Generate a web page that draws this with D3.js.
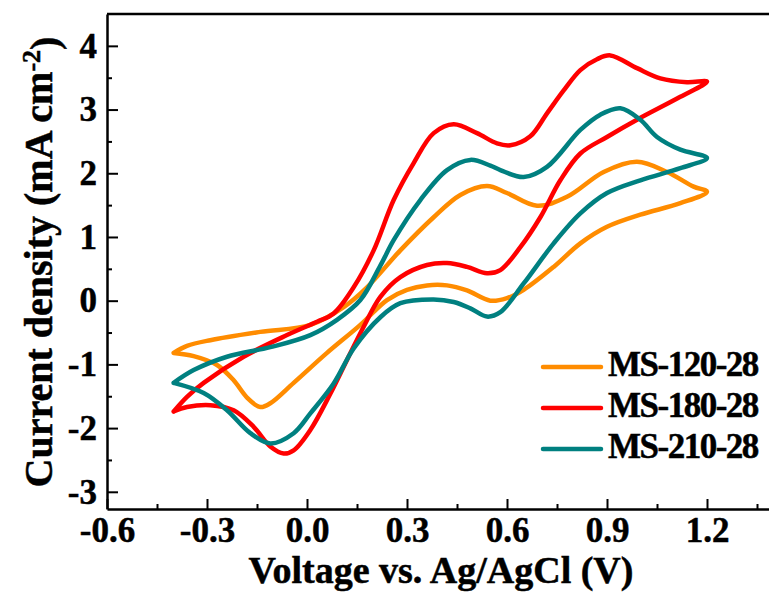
<!DOCTYPE html>
<html>
<head>
<meta charset="utf-8">
<script src="https://cdn.jsdelivr.net/npm/d3@7"></script>
<style>
  body { margin: 0; background: #fff; }
  svg { display: block; font-family: "Liberation Serif", "Times New Roman", serif; font-weight: bold; }
  .axis path, .axis line { stroke: #000; }
  text { stroke: #000; stroke-width: 0.5px; }
</style>
</head>
<body>
<script>
// series names and colours
const seriesNames = ['MS-120-28', 'MS-180-28', 'MS-210-28'];
const seriesColors = ['#ff8c00', '#ff0000', '#008080'];

// each loop: forward sweep -0.4 -> 1.2 V, then reverse back to -0.4 V
const ms120Volt = [-0.40, -0.36, -0.29, -0.14, 0.01, 0.11, 0.18, 0.28, 0.38, 0.46, 0.54, 0.60, 0.69, 0.78, 0.89, 0.99, 1.08, 1.16, 1.20,
                   1.12, 1.00, 0.90, 0.82, 0.74, 0.65, 0.60, 0.55, 0.48, 0.42, 0.36, 0.30, 0.24, 0.16, 0.06, -0.04, -0.11, -0.14, -0.18, -0.22, -0.27, -0.34, -0.40];
const ms120Curr = [-0.82, -0.71, -0.62, -0.49, -0.38, -0.10, 0.21, 0.79, 1.31, 1.66, 1.80, 1.69, 1.49, 1.63, 2.02, 2.18, 2.02, 1.79, 1.71,
                   1.53, 1.35, 1.16, 0.90, 0.53, 0.17, 0.04, 0.00, 0.16, 0.24, 0.24, 0.17, 0.01, -0.38, -0.82, -1.29, -1.61, -1.67, -1.52, -1.25, -1.01, -0.87, -0.82];

const ms180Volt = [-0.40, -0.36, -0.31, -0.19, -0.06, 0.03, 0.08, 0.14, 0.20, 0.26, 0.32, 0.38, 0.44, 0.51, 0.57, 0.61, 0.67, 0.72, 0.77, 0.82, 0.87, 0.91, 0.99, 1.06, 1.14, 1.20,
                   1.12, 0.99, 0.90, 0.82, 0.76, 0.70, 0.64, 0.58, 0.54, 0.48, 0.42, 0.36, 0.28, 0.22, 0.17, 0.12, 0.07, 0.01, -0.04, -0.07, -0.11, -0.16, -0.22, -0.29, -0.36, -0.40];
const ms180Curr = [-1.74, -1.51, -1.29, -0.88, -0.54, -0.33, -0.20, 0.21, 0.79, 1.58, 2.16, 2.63, 2.77, 2.63, 2.47, 2.44, 2.58, 2.94, 3.30, 3.62, 3.79, 3.85, 3.65, 3.49, 3.43, 3.44,
                   3.20, 2.84, 2.57, 2.31, 1.89, 1.31, 0.84, 0.48, 0.43, 0.53, 0.59, 0.56, 0.37, 0.06, -0.41, -0.93, -1.46, -2.03, -2.35, -2.40, -2.29, -1.98, -1.72, -1.64, -1.67, -1.74];

const ms210Volt = [-0.40, -0.34, -0.24, -0.11, 0.01, 0.09, 0.16, 0.22, 0.26, 0.34, 0.42, 0.49, 0.55, 0.58, 0.65, 0.72, 0.82, 0.88, 0.94, 1.00, 1.05, 1.12, 1.20,
                   1.12, 1.00, 0.90, 0.82, 0.74, 0.65, 0.58, 0.54, 0.49, 0.44, 0.38, 0.28, 0.22, 0.14, 0.08, 0.01, -0.04, -0.11, -0.17, -0.24, -0.31, -0.40];
const ms210Curr = [-1.29, -1.09, -0.88, -0.73, -0.54, -0.30, 0.01, 0.55, 0.95, 1.58, 2.05, 2.21, 2.12, 2.05, 1.94, 2.10, 2.68, 2.92, 3.02, 2.84, 2.57, 2.37, 2.24,
                   2.08, 1.89, 1.69, 1.37, 0.90, 0.27, -0.18, -0.25, -0.12, -0.02, 0.02, -0.04, -0.26, -0.75, -1.30, -1.77, -2.08, -2.24, -2.08, -1.72, -1.45, -1.29];

const xMajorTicks = [-0.6, -0.3, 0.0, 0.3, 0.6, 0.9, 1.2];
const xMinorTicks = [-0.45, -0.15, 0.15, 0.45, 0.75, 1.05, 1.35];
const yMajorTicks = [-3, -2, -1, 0, 1, 2, 3, 4];
const yMinorTicks = [-2.5, -1.5, -0.5, 0.5, 1.5, 2.5, 3.5];

const W = 769, H = 599;
const plot = { left: 107, right: 807, top: 14, bottom: 509 };

const svg = d3.select('body').append('svg')
    .attr('width', W)
    .attr('height', H);

const x = d3.scaleLinear().domain([-0.6, 1.5]).range([plot.left, plot.right]);
const y = d3.scaleLinear().domain([-3.27, 4.5]).range([plot.bottom, plot.top]);

// data loops
const loops = [
    d3.zip(ms120Volt, ms120Curr),
    d3.zip(ms180Volt, ms180Curr),
    d3.zip(ms210Volt, ms210Curr)
];

const line = d3.line()
    .x(d => x(d[0]))
    .y(d => y(d[1]))
    .curve(d3.curveCatmullRom.alpha(0.5));

svg.append('g').selectAll('path')
    .data(loops)
    .join('path')
    .attr('d', line)
    .attr('fill', 'none')
    .attr('stroke', (d, i) => seriesColors[i])
    .attr('stroke-width', 4.5)
    .attr('stroke-linejoin', 'round')
    .attr('stroke-linecap', 'round');

// axes
const xAxis = svg.append('g')
    .attr('class', 'axis')
    .attr('transform', `translate(0,${plot.bottom})`)
    .call(d3.axisBottom(x).tickValues(xMajorTicks).tickSizeInner(-10).tickSizeOuter(0).tickPadding(8)
        .tickFormat(d => d.toFixed(1)));
xAxis.append('g')
    .call(d3.axisBottom(x).tickValues(xMinorTicks).tickSizeInner(-5).tickSizeOuter(0).tickFormat(''))
    .select('.domain').remove();

const yAxis = svg.append('g')
    .attr('class', 'axis')
    .attr('transform', `translate(${plot.left},0)`)
    .call(d3.axisLeft(y).tickValues(yMajorTicks).tickSizeInner(-11).tickSizeOuter(0).tickPadding(10)
        .tickFormat(d => String(d)));
yAxis.append('g')
    .call(d3.axisLeft(y).tickValues(yMinorTicks).tickSizeInner(-5).tickSizeOuter(0).tickFormat(''))
    .select('.domain').remove();

svg.selectAll('.axis .domain').attr('stroke-width', 2.5);
svg.selectAll('.axis .tick line').attr('stroke-width', 2);
svg.selectAll('.axis .tick text')
    .attr('fill', '#000')
    .style('font-family', '"Liberation Serif", "Times New Roman", serif')
    .style('font-weight', 'bold')
    .style('font-size', '35px');

// top frame line
svg.append('line')
    .attr('x1', plot.left).attr('x2', plot.right)
    .attr('y1', plot.top).attr('y2', plot.top)
    .attr('stroke', '#000')
    .attr('stroke-width', 2.5);

// axis titles
svg.append('text')
    .attr('x', 441)
    .attr('y', 583)
    .attr('text-anchor', 'middle')
    .style('font-size', '38px')
    .text('Voltage vs. Ag/AgCl (V)');

const yTitle = svg.append('text')
    .attr('transform', 'translate(52,262) rotate(-90)')
    .attr('text-anchor', 'middle')
    .style('font-size', '40px');
yTitle.append('tspan').text('Current density (mA cm');
yTitle.append('tspan').attr('dy', '-0.45em').style('font-size', '26px').text('-2');
yTitle.append('tspan').attr('dy', '0.45em').text(')');

// legend
const legendY = [367, 408, 449];
const legend = svg.append('g').selectAll('g')
    .data(seriesNames)
    .join('g')
    .attr('transform', (d, i) => `translate(0,${legendY[i]})`);
legend.append('line')
    .attr('x1', 543).attr('x2', 601)
    .attr('stroke', (d, i) => seriesColors[i])
    .attr('stroke-width', 4.5)
    .attr('stroke-linecap', 'round');
legend.append('text')
    .attr('x', 608)
    .attr('y', 9)
    .style('font-size', '35px')
    .style('letter-spacing', '-1.5px')
    .text(d => d);
</script>
</body>
</html>
